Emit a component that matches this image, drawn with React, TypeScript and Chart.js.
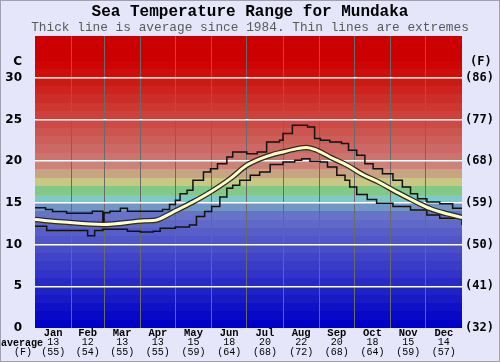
import React, { useEffect, useRef } from 'react';
import { Chart, registerables } from 'chart.js';

Chart.register(...registerables);

// ---- data ----
const monthNames = ['Jan', 'Feb', 'Mar', 'Apr', 'May', 'Jun', 'Jul', 'Aug', 'Sep', 'Oct', 'Nov', 'Dec'];
const monthStartDays = [0, 31, 59, 90, 120, 151, 181, 212, 243, 273, 304, 334, 365];
const monthAvgC = ['13', '12', '13', '13', '15', '18', '20', '22', '20', '18', '15', '14'];
const monthAvgF = ['(55)', '(54)', '(55)', '(55)', '(59)', '(64)', '(68)', '(72)', '(68)', '(64)', '(59)', '(57)'];
const celsiusTicks = [0, 5, 10, 15, 20, 25, 30];
const fahrenheitLabels = ['(32)', '(41)', '(50)', '(59)', '(68)', '(77)', '(86)'];

const avgDays = [0, 24, 58, 94, 104, 118, 135, 150, 167, 181, 201, 212, 224, 232, 241, 252, 267, 280, 295, 309, 323, 338, 352, 365];
const avgTemps = [13.0, 12.7, 12.4, 12.85, 12.95, 13.9, 15.1, 16.3, 17.9, 19.5, 20.7, 21.1, 21.5, 21.65, 21.3, 20.5, 19.5, 18.4, 17.4, 16.3, 15.3, 14.3, 13.7, 13.25];

const maxDays = [0, 9, 15, 27, 49, 58, 59, 64, 73, 79, 104, 109, 115, 120, 124, 130, 135, 144, 150, 156, 164, 169, 181, 190, 198, 209, 212, 220, 233, 239, 244, 252, 262, 268, 275, 282, 289, 297, 306, 314, 321, 327, 335, 346, 357, 365];
const maxTemps = [14.4, 14.2, 13.95, 13.75, 14.0, 12.4, 13.8, 14.0, 14.35, 14.0, 14.0, 14.2, 14.8, 15.3, 16.1, 16.5, 17.7, 18.7, 19.1, 19.7, 20.5, 21.1, 20.9, 21.1, 22.3, 22.5, 23.3, 24.3, 24.1, 22.7, 22.5, 22.3, 22.1, 21.3, 20.7, 19.7, 19.1, 18.5, 17.7, 16.9, 16.1, 15.5, 15.1, 14.9, 14.35, 14.3];

const minDays = [0, 10, 45, 51, 58, 79, 90, 101, 107, 120, 132, 138, 145, 151, 158, 164, 169, 175, 184, 192, 201, 212, 222, 228, 235, 244, 250, 258, 265, 269, 275, 284, 292, 306, 321, 335, 346, 365];
const minTemps = [12.2, 11.7, 11.05, 11.7, 11.85, 11.6, 11.5, 11.6, 11.95, 12.1, 12.35, 13.35, 13.95, 14.55, 15.7, 16.75, 17.1, 17.7, 18.3, 18.7, 19.6, 19.9, 20.1, 20.3, 20.0, 19.9, 19.3, 18.3, 17.7, 16.9, 16.0, 15.4, 14.95, 14.55, 14.15, 13.55, 13.15, 12.35];

// ---- styles ----
const bandColors = [
  'rgb(0,0,200)', 'rgb(8,8,200)', 'rgb(16,16,200)', 'rgb(24,26,200)', 'rgb(32,34,200)',
  'rgb(40,42,200)', 'rgb(48,52,200)', 'rgb(56,60,200)', 'rgb(64,68,200)', 'rgb(72,78,200)',
  'rgb(80,86,200)', 'rgb(88,94,200)', 'rgb(96,104,200)', 'rgb(104,114,200)', 'rgb(115,150,200)',
  'rgb(125,200,200)', 'rgb(130,200,135)', 'rgb(200,200,130)', 'rgb(200,165,130)', 'rgb(205,130,120)',
  'rgb(205,115,110)', 'rgb(205,105,100)', 'rgb(205,95,90)', 'rgb(205,85,80)', 'rgb(205,75,70)',
  'rgb(205,65,60)', 'rgb(205,55,50)', 'rgb(205,45,40)', 'rgb(205,35,30)', 'rgb(205,25,20)',
  'rgb(205,15,10)', 'rgb(205,6,5)', 'rgb(204,0,0)', 'rgb(204,0,0)', 'rgb(204,0,0)',
];
const MONO = "'Liberation Mono', 'DejaVu Sans Mono', monospace";
const SANS = "'DejaVu Sans', sans-serif";

const monthCenters = monthNames.map((_, i) => (monthStartDays[i] + monthStartDays[i + 1]) / 2);
const xTickValues: number[] = [];
const xTickLabels: string[] = [];
monthStartDays.forEach((d, i) => {
  xTickValues.push(d);
  xTickLabels.push('');
  if (i < monthNames.length) {
    xTickValues.push(monthCenters[i]);
    xTickLabels.push(monthNames[i]);
  }
});

const bgPlugin = {
  id: 'seaBackground',
  beforeDraw(chart: any) {
    const { ctx, chartArea, scales } = chart;
    ctx.save();
    ctx.fillStyle = '#e6e6fa';
    ctx.fillRect(0, 0, chart.width, chart.height);
    const y = scales.y;
    bandColors.forEach((c, i) => {
      const top = Math.round(y.getPixelForValue(i + 1));
      const bottom = Math.round(y.getPixelForValue(i));
      ctx.fillStyle = c;
      ctx.fillRect(chartArea.left, top, chartArea.right - chartArea.left, bottom - top);
    });
    ctx.restore();
  },
  afterDraw(chart: any) {
    const { ctx } = chart;
    ctx.save();
    ctx.fillStyle = '#000';
    ctx.textBaseline = 'middle';
    ctx.font = `bold 12px ${SANS}`;
    ctx.textAlign = 'right';
    ctx.fillText('C', 22, 62);
    ctx.font = `bold 12px 'DejaVu Sans Mono', monospace`;
    ctx.textAlign = 'left';
    ctx.fillText('(F)', 470, 62);
    ctx.font = `bold 10px ${MONO}`;
    ctx.textAlign = 'left';
    ctx.fillText('average', 1, 343);
    ctx.textAlign = 'center';
    ctx.font = `10px ${MONO}`;
    ctx.fillText('(F)', 23, 352);
    ctx.strokeStyle = '#a0a0b0';
    ctx.lineWidth = 1;
    ctx.strokeRect(0.5, 0.5, chart.width - 1, chart.height - 1);
    ctx.restore();
  },
};

export default function App() {
  const canvasRef = useRef<HTMLCanvasElement | null>(null);

  useEffect(() => {
    if (!canvasRef.current) return;
    const chart = new Chart(canvasRef.current, {
      type: 'line',
      data: {
        datasets: [
          {
            label: 'Average',
            data: avgDays.map((d, i) => ({ x: d, y: avgTemps[i] })),
            borderColor: 'rgb(255,255,195)',
            borderWidth: 3,
            pointRadius: 0,
            tension: 0.4,
            cubicInterpolationMode: 'monotone',
            order: 0,
            xAxisID: 'x',
            yAxisID: 'y',
          },
          {
            label: 'Average outline',
            data: avgDays.map((d, i) => ({ x: d, y: avgTemps[i] })),
            borderColor: '#2a2a2a',
            borderWidth: 5.5,
            pointRadius: 0,
            tension: 0.4,
            cubicInterpolationMode: 'monotone',
            order: 1,
            xAxisID: 'x',
            yAxisID: 'y',
          },
          {
            label: 'Max',
            data: maxDays.map((d, i) => ({ x: d, y: maxTemps[i] })),
            borderColor: '#111',
            borderWidth: 1.5,
            pointRadius: 0,
            stepped: true,
            order: 2,
            xAxisID: 'x',
            yAxisID: 'y',
          },
          {
            label: 'Min',
            data: minDays.map((d, i) => ({ x: d, y: minTemps[i] })),
            borderColor: '#111',
            borderWidth: 1.5,
            pointRadius: 0,
            stepped: true,
            order: 3,
            xAxisID: 'x',
            yAxisID: 'y',
          },
        ],
      },
      options: {
        animation: false,
        responsive: true,
        maintainAspectRatio: false,
        layout: { padding: 0 },
        plugins: {
          legend: { display: false },
          tooltip: { enabled: false },
          title: {
            display: true,
            text: 'Sea Temperature Range for Mundaka',
            color: '#000',
            font: { family: MONO, size: 16, weight: 'bold', lineHeight: 1.2 },
            padding: { top: 2, bottom: 0 },
          },
          subtitle: {
            display: true,
            text: 'Thick line is average since 1984. Thin lines are extremes',
            color: '#5a5a5a',
            font: { family: MONO, size: 12.8, lineHeight: 1 },
            padding: { top: 0, bottom: 2 },
          },
        },
        scales: {
          x: {
            type: 'linear',
            position: 'bottom',
            weight: 1,
            min: 0,
            max: 365,
            afterBuildTicks: (s: any) => {
              s.ticks = xTickValues.map((v) => ({ value: v }));
            },
            afterFit: (s: any) => {
              s.height = 10;
            },
            ticks: {
              autoSkip: false,
              maxRotation: 0,
              padding: 0,
              color: '#000',
              font: { family: MONO, size: 10.5, weight: 'bold', lineHeight: 1 },
              callback: (_v: any, i: number) => xTickLabels[i],
            },
            grid: {
              drawTicks: false,
              lineWidth: 1,
              color: (ctx: any) => {
                const v = ctx.tick ? ctx.tick.value : -1;
                return monthStartDays.includes(v) && v > 0 && v < 365 ? '#6a6a6a' : 'rgba(0,0,0,0)';
              },
            },
            border: { display: false },
          },
          x2: {
            type: 'linear',
            position: 'bottom',
            weight: 2,
            min: 0,
            max: 365,
            afterBuildTicks: (s: any) => {
              s.ticks = monthCenters.map((v) => ({ value: v }));
            },
            afterFit: (s: any) => {
              s.height = 24;
            },
            ticks: {
              autoSkip: false,
              maxRotation: 0,
              padding: 0,
              color: '#000',
              font: { family: MONO, size: 10, lineHeight: 0.95 },
              callback: (_v: any, i: number) => [monthAvgC[i], monthAvgF[i]],
            },
            grid: { display: false, drawTicks: false },
            border: { display: false },
          },
          y: {
            type: 'linear',
            position: 'left',
            min: 0,
            max: 35,
            afterBuildTicks: (s: any) => {
              s.ticks = celsiusTicks.map((v) => ({ value: v }));
            },
            afterFit: (s: any) => {
              s.width = 35;
            },
            ticks: {
              padding: 13,
              color: '#000',
              font: { family: SANS, size: 12, weight: 'bold' },
              callback: (v: any) => String(v),
            },
            grid: {
              drawTicks: false,
              lineWidth: 1.5,
              color: (ctx: any) => (ctx.tick && ctx.tick.value > 0 ? '#ffffff' : 'rgba(0,0,0,0)'),
            },
            border: { display: false },
          },
          y2: {
            type: 'linear',
            position: 'right',
            min: 0,
            max: 35,
            afterBuildTicks: (s: any) => {
              s.ticks = celsiusTicks.map((v) => ({ value: v }));
            },
            afterFit: (s: any) => {
              s.width = 38;
            },
            ticks: {
              padding: 3,
              color: '#000',
              font: { family: "'DejaVu Sans Mono', monospace", size: 12, weight: 'bold' },
              callback: (_v: any, i: number) => fahrenheitLabels[i],
            },
            grid: { display: false, drawTicks: false },
            border: { display: false },
          },
        },
      },
      plugins: [bgPlugin],
    } as any);
    return () => chart.destroy();
  }, []);

  return (
    <div style={{ position: 'absolute', left: 0, top: 0, width: 500, height: 362 }}>
      <canvas ref={canvasRef} />
    </div>
  );
}
